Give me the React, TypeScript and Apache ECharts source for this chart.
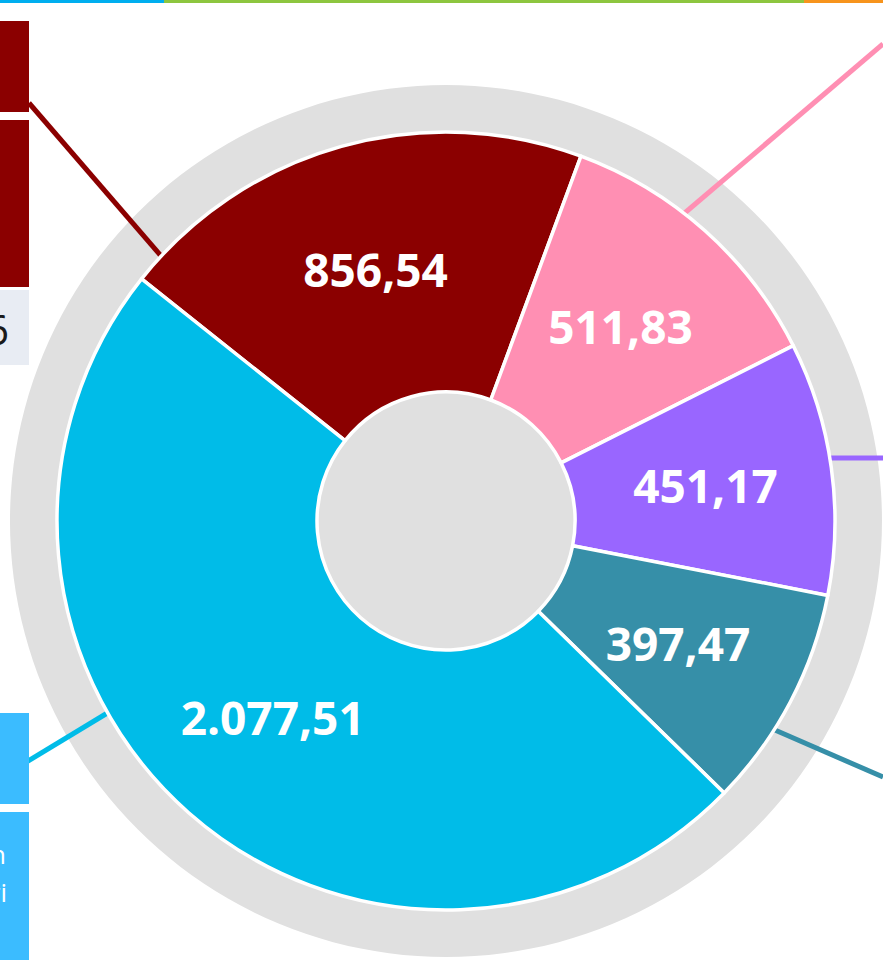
import React, { useEffect, useRef } from "react";
import * as echarts from "echarts";

const categories = ["A", "B", "C", "D", "E"];
const values = [856.54, 511.83, 451.17, 397.47, 2077.51];
const colors = ["#8B0000", "#FF8FB3", "#9966FF", "#368FA8", "#00BCE8"];

function fmt(v: number): string {
  const [i, d] = v.toFixed(2).split(".");
  return i.replace(/\B(?=(\d{3})+(?!\d))/g, ".") + "," + d;
}

export default function App() {
  const ref = useRef<HTMLDivElement>(null);
  useEffect(() => {
    if (!ref.current) return;
    const chart = echarts.init(ref.current, null, { renderer: "svg" });
    const cx = 446;
    const cy = 521;
    const lines = [
      { c: colors[0], p: [29, 103, 168, 264] },
      { c: colors[1], p: [883, 44, 680, 217] },
      { c: colors[2], p: [883, 458, 822, 458] },
      { c: colors[3], p: [883, 777, 768, 727] },
      { c: colors[4], p: [0, 778, 114, 709] },
    ];
    chart.setOption({
      animation: false,
      backgroundColor: "#ffffff",
      graphic: [
        { type: "rect", shape: { x: 0, y: 0, width: 164, height: 3 }, style: { fill: "#00AEEF" }, z: 5 },
        { type: "rect", shape: { x: 164, y: 0, width: 640, height: 3 }, style: { fill: "#8DC63F" }, z: 5 },
        { type: "rect", shape: { x: 804, y: 0, width: 79, height: 3 }, style: { fill: "#F7941D" }, z: 5 },
        { type: "rect", shape: { x: 0, y: 21, width: 29, height: 91 }, style: { fill: "#8B0000" }, z: 5 },
        { type: "rect", shape: { x: 0, y: 120, width: 29, height: 167 }, style: { fill: "#8B0000" }, z: 5 },
        { type: "rect", shape: { x: 0, y: 290, width: 29, height: 75 }, style: { fill: "#E8ECF3" }, z: 5 },
        {
          type: "text", x: 9, y: 328, z: 6,
          style: { text: "6", fill: "#1a1a1a", font: "400 42px 'Open Sans'", align: "right", verticalAlign: "middle" },
        },
        { type: "rect", shape: { x: 0, y: 713, width: 29, height: 91 }, style: { fill: "#3BBCFF" }, z: 5 },
        { type: "rect", shape: { x: 0, y: 812, width: 29, height: 148 }, style: { fill: "#3BBCFF" }, z: 5 },
        {
          type: "text", x: 6, y: 854, z: 6,
          style: { text: "n", fill: "#ffffff", font: "400 26px 'Open Sans'", align: "right", verticalAlign: "middle" },
        },
        {
          type: "text", x: 7, y: 892, z: 6,
          style: { text: "ri", fill: "#ffffff", font: "400 26px 'Open Sans'", align: "right", verticalAlign: "middle" },
        },
        ...lines.map((l) => ({
          type: "line",
          z: 2,
          shape: { x1: l.p[0], y1: l.p[1], x2: l.p[2], y2: l.p[3] },
          style: { stroke: l.c, lineWidth: 5 },
        })),
      ],
      series: [
        {
          type: "pie",
          z: 1,
          silent: true,
          center: [cx, cy],
          radius: [0, 436],
          label: { show: false },
          labelLine: { show: false },
          itemStyle: { color: "#E0E0E0" },
          data: [{ name: "bg", value: 1 }],
        },
        {
          type: "pie",
          z: 3,
          silent: true,
          center: [cx, cy],
          radius: [129, 389],
          startAngle: 141.5,
          clockwise: true,
          itemStyle: { borderColor: "#ffffff", borderWidth: 3.5 },
          label: {
            show: true,
            position: "inside",
            color: "#ffffff",
            fontFamily: "Open Sans",
            fontWeight: 700,
            fontSize: 46,
            formatter: (p: any) => fmt(p.value),
          },
          labelLine: { show: false },
          data: categories.map((c, i) => ({
            name: c,
            value: values[i],
            itemStyle: { color: colors[i] },
          })),
        },
      ],
    });
    return () => chart.dispose();
  }, []);
  return (
    <div
      ref={ref}
      style={{ position: "absolute", left: 0, top: 0, width: 883, height: 960 }}
    />
  );
}
